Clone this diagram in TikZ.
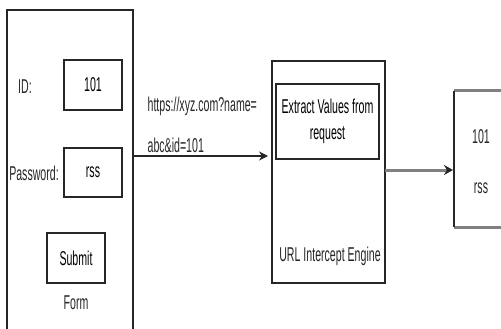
\documentclass[tikz,border=0pt]{standalone}
\usepackage{fontspec}
\setmainfont{Liberation Sans}[FakeStretch=0.53]
\usetikzlibrary{arrows.meta, positioning}

\begin{document}
\begin{tikzpicture}[
    x=1pt, y=-1pt,
    font=\fontsize{20}{24}\selectfont,
    box/.style={rectangle, draw=black!85, line width=1.3pt, inner sep=0pt, outer sep=0pt, align=center},
    txt/.style={inner sep=0pt, align=center, text=black!85},
    arrow/.style={-{Stealth[length=9pt, width=9pt]}, line width=1.3pt, draw=black!85},
    grayarrow/.style={-{Stealth[length=9pt, width=10pt, color=black!85]}, line width=3pt, draw=gray}
]
\clip (0,0) rectangle (501,329);

% login form
\node[box, minimum width=126pt, minimum height=335pt] (form) at (70,177.5) {};
\node[txt] (idlabel) at (25,87) {ID:};
\node[box, minimum width=58pt, minimum height=50pt] (idbox) at (93,85) {101};
\node[txt] (pwlabel) at (34,173) {Password:};
\node[box, minimum width=58pt, minimum height=49pt] (pwbox) at (93,172.5) {rss};
\node[box, minimum width=58pt, minimum height=50pt] (submit) at (76,258) {Submit};
\node[txt] (formlabel) at (76,303) {Form};

% intercept engine
\node[box, minimum width=113pt, minimum height=222pt] (engine) at (328.5,172) {};
\node[box, line width=2pt, minimum width=103pt, minimum height=75pt] (extract) at (327.5,121.5) {Extract Values from\\[2pt]request};
\node[txt] (enginelabel) at (330,256) {URL Intercept Engine};

% result
\node[minimum width=67pt, minimum height=136pt, inner sep=0pt, outer sep=0pt] (result) at (487.5,159) {};
\draw[gray, line width=3pt] (result.north west) -- (result.north east);
\draw[gray, line width=3pt] (result.south west) -- (result.south east);
\draw[black!85, line width=1.3pt] (result.north west) -- (result.south west);
\node[txt] (resid) at (481,137) {101};
\node[txt] (respw) at (481,188) {rss};

\draw[arrow, shorten >=4pt] (form.east |- 0,156) -- node[pos=0, anchor=south west, xshift=14pt, yshift=3pt, txt, align=left] {https://xyz.com?name=\\[17pt]abc\&id=101} (engine.west |- 0,156);
\draw[grayarrow, shorten >=1pt] (engine.east |- 0,170) -- (result.west |- 0,170);

\end{tikzpicture}
\end{document}
